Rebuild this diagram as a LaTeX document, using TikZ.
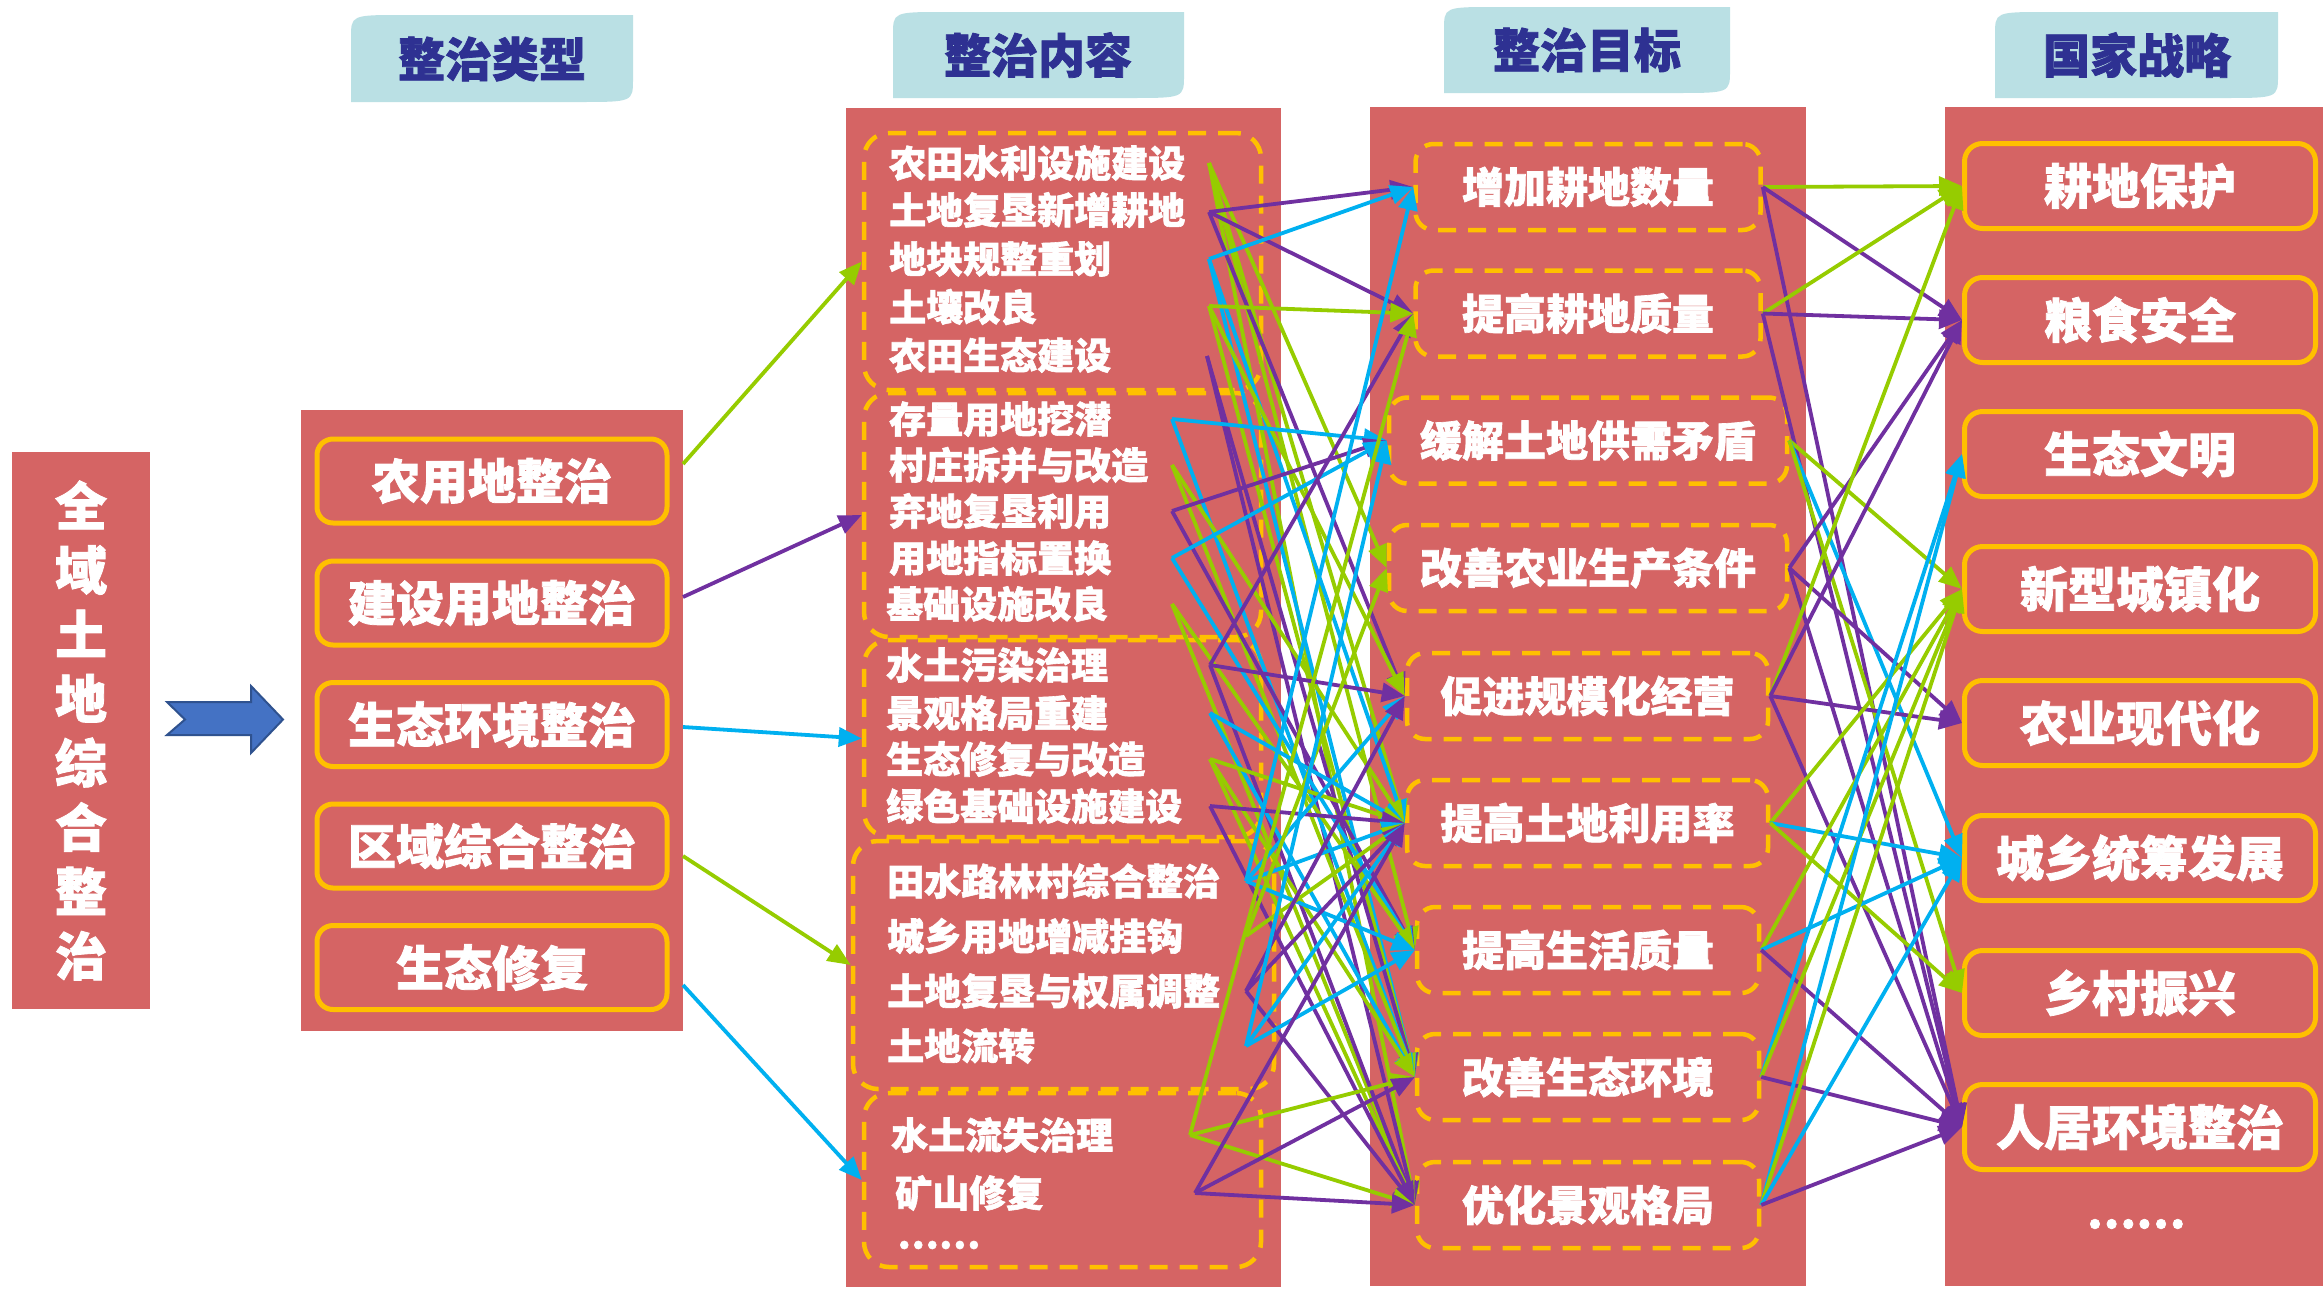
\documentclass[tikz,border=0pt]{standalone}
\usepackage{fontspec}
\setmainfont{Noto Sans CJK SC}[BoldFeatures={FakeBold=1.6}]
\usetikzlibrary{arrows.meta}
\definecolor{panelred}{RGB}{213,100,100}
\definecolor{gold}{RGB}{255,192,0}
\definecolor{tabfill}{RGB}{186,224,228}
\definecolor{navy}{RGB}{46,49,146}
\definecolor{lgreen}{RGB}{150,204,0}
\definecolor{lblue}{RGB}{0,176,240}
\definecolor{lpurple}{RGB}{112,48,160}
\definecolor{arrowblue}{RGB}{68,114,196}
\definecolor{arrowedge}{RGB}{47,82,143}
\begin{document}
\begin{tikzpicture}[x=1pt,y=-1pt,
  panel/.style={fill=panelred, draw=none, inner sep=0pt},
  typebox/.style={draw=gold, line width=5pt, rounded corners=16pt, minimum width=350pt, minimum height=84pt, text=white, font=\fontsize{48}{52}\selectfont\bfseries, inner sep=0pt},
  goalbox/.style={draw=gold, line width=4.5pt, dash pattern=on 18pt off 12pt, rounded corners=18pt, minimum height=86pt, text=white, font=\fontsize{42}{46}\selectfont\bfseries, inner sep=0pt},
  stratbox/.style={draw=gold, line width=5pt, rounded corners=18pt, minimum width=351pt, minimum height=85pt, text=white, font=\fontsize{48}{52}\selectfont\bfseries, inner sep=0pt},
  grp/.style={draw=gold, line width=4.5pt, dash pattern=on 18pt off 12pt, rounded corners=25pt, inner sep=0pt},
  item/.style={anchor=west, inner sep=0pt, text=white, font=\fontsize{37}{40}\selectfont\bfseries},
  tabtext/.style={text=navy, font=\fontsize{47}{50}\selectfont\bfseries, inner sep=0pt},
  tabshape/.style={fill=tabfill},
  conn/.style={line width=3.8pt, -{Triangle[length=23pt,width=19pt]}},
]
\useasboundingbox (0,0) rectangle (2323,1291);
\fill[white] (0,0) rectangle (2323,1291);

% ---------- header tabs ----------
\fill[tabshape] (351,102) -- (351,38) .. controls (351,15) .. (403,15) -- (633,15) -- (633,79) .. controls (633,102) .. (578,102) -- cycle;
\fill[tabshape] (893,98) -- (893,35) .. controls (893,12) .. (945,12) -- (1184,12) -- (1184,75) .. controls (1184,98) .. (1129,98) -- cycle;
\fill[tabshape] (1444,93) -- (1444,30) .. controls (1444,7) .. (1496,7) -- (1730,7) -- (1730,70) .. controls (1730,93) .. (1675,93) -- cycle;
\fill[tabshape] (1995,98) -- (1995,35) .. controls (1995,12) .. (2047,12) -- (2278,12) -- (2278,75) .. controls (2278,98) .. (2223,98) -- cycle;
\node[tabtext] (h1) at (492,59) {整治类型};
\node[tabtext] (h2) at (1038,55) {整治内容};
\node[tabtext] (h3) at (1587,50) {整治目标};
\node[tabtext] (h4) at (2137,55) {国家战略};

% ---------- panels ----------
\node[panel, minimum width=138pt, minimum height=557pt, text=white, align=center,
      font=\fontsize{52}{64.3}\selectfont\bfseries] (whole) at (81,730.5)
      {全\\域\\土\\地\\综\\合\\整\\治};
\node[panel, minimum width=382pt, minimum height=621pt] (typepanel) at (492,720.5) {};
\node[panel, minimum width=435pt, minimum height=1179pt] (contpanel) at (1063.5,697.5) {};
\node[panel, minimum width=436pt, minimum height=1179pt] (goalpanel) at (1588,696.5) {};
\node[panel, minimum width=378pt, minimum height=1179pt] (stratpanel) at (2134,696.5) {};

% ---------- big blue arrow ----------
\filldraw[fill=arrowblue, draw=arrowedge, line width=2pt, line join=miter]
  (167,702) -- (251,702) -- (251,686) -- (283,719.5) -- (251,753) -- (251,735) -- (167,735) -- (185,719.5) -- cycle;

% ---------- type boxes ----------
\node[typebox] (tb1) at (492,481) {农用地整治};
\node[typebox] (tb2) at (492,603) {建设用地整治};
\node[typebox] (tb3) at (492,724.5) {生态环境整治};
\node[typebox] (tb4) at (492,846) {区域综合整治};
\node[typebox] (tb5) at (492,967.5) {生态修复};

% ---------- content groups ----------
\node[grp, minimum width=397pt, minimum height=257pt] (grp1) at (1062.5,261.5) {};
\node[grp, minimum width=397pt, minimum height=244pt] (grp2) at (1062.5,515) {};
\node[grp, minimum width=397pt, minimum height=197pt] (grp3) at (1062.5,738.5) {};
\node[grp, minimum width=421pt, minimum height=248pt] (grp4) at (1063.5,965) {};
\node[grp, minimum width=397pt, minimum height=174pt] (grp5) at (1062.5,1180) {};

\node[item] (i1) at (889,163) {农田水利设施建设};
\node[item] (i2) at (889,210) {土地复垦新增耕地};
\node[item] (i3) at (889,259) {地块规整重划};
\node[item] (i4) at (889,307) {土壤改良};
\node[item] (i5) at (889,355) {农田生态建设};
\node[item] (i6) at (889,419) {存量用地挖潜};
\node[item] (i7) at (889,465) {村庄拆并与改造};
\node[item] (i8) at (889,511) {弃地复垦利用};
\node[item] (i9) at (889,558) {用地指标置换};
\node[item] (i10) at (886,604) {基础设施改良};
\node[item] (i11) at (886,665) {水土污染治理};
\node[item] (i12) at (886,713) {景观格局重建};
\node[item] (i13) at (886,759) {生态修复与改造};
\node[item] (i14) at (886,806) {绿色基础设施建设};
\node[item] (i15) at (887,881) {田水路林村综合整治};
\node[item] (i16) at (887,936) {城乡用地增减挂钩};
\node[item] (i17) at (887,991) {土地复垦与权属调整};
\node[item] (i18) at (887,1046) {土地流转};
\node[item] (i19) at (891,1135) {水土流失治理};
\node[item] (i20) at (895,1193) {矿山修复};
\node[item] (i21) at (897,1245) {……};

% ---------- goal boxes ----------
\node[goalbox, minimum width=345pt] (g1) at (1588,187) {增加耕地数量};
\node[goalbox, minimum width=345pt] (g2) at (1588,313.5) {提高耕地质量};
\node[goalbox, minimum width=398pt] (g3) at (1588,440.5) {缓解土地供需矛盾};
\node[goalbox, minimum width=398pt] (g4) at (1588,568) {改善农业生产条件};
\node[goalbox, minimum width=361pt] (g5) at (1587.5,696) {促进规模化经营};
\node[goalbox, minimum width=361pt] (g6) at (1587.5,823) {提高土地利用率};
\node[goalbox, minimum width=342pt] (g7) at (1588,950) {提高生活质量};
\node[goalbox, minimum width=342pt] (g8) at (1588,1077) {改善生态环境};
\node[goalbox, minimum width=342pt] (g9) at (1588,1205) {优化景观格局};

% ---------- strategy boxes ----------
\node[stratbox] (s1) at (2140,186) {耕地保护};
\node[stratbox] (s2) at (2140,320) {粮食安全};
\node[stratbox] (s3) at (2140,454) {生态文明};
\node[stratbox] (s4) at (2140,589) {新型城镇化};
\node[stratbox] (s5) at (2140,723) {农业现代化};
\node[stratbox] (s6) at (2140,858) {城乡统筹发展};
\node[stratbox] (s7) at (2140,993) {乡村振兴};
\node[stratbox] (s8) at (2140,1127) {人居环境整治};
\node[text=white, font=\fontsize{44}{46}\selectfont\bfseries, inner sep=0pt] (sdots) at (2136,1224) {……};

% ---------- connector start points ----------
\coordinate (o1) at (683,464);
\coordinate (o2) at (683,597);
\coordinate (o3) at (683,727);
\coordinate (o4) at (683,856);
\coordinate (o5) at (683,985);

\coordinate (p1) at (1209,163);
\coordinate (p2) at (1209,212);
\coordinate (p3) at (1209,259);
\coordinate (p4) at (1209,306);
\coordinate (p5) at (1207,356);
\coordinate (q1) at (1172,419);
\coordinate (q2) at (1172,465);
\coordinate (q3) at (1172,511);
\coordinate (q4) at (1172,558);
\coordinate (q5) at (1172,604);
\coordinate (r1) at (1210,665);
\coordinate (r2) at (1210,713);
\coordinate (r3) at (1210,759);
\coordinate (r4) at (1210,806);
\coordinate (u1) at (1246,881);
\coordinate (u2) at (1246,936);
\coordinate (u3) at (1246,991);
\coordinate (u4) at (1246,1046);
\coordinate (t1) at (1190,1135);
\coordinate (t2) at (1195,1193);

% ---------- type -> content ----------
\draw[conn, draw=lgreen] (o1) -- (grp1.west);
\draw[conn, draw=lpurple] (o2) -- (grp2.west);
\draw[conn, draw=lblue] (o3) -- (grp3.west);
\draw[conn, draw=lgreen] (o4) -- (grp4.west);
\draw[conn, draw=lblue] (o5) -- (grp5.west);

% ---------- content -> goals ----------
\foreach \s/\t/\c in {
  p1/g4/lgreen, p1/g6/lgreen, p1/g7/lgreen, p1/g9/lgreen,
  p2/g1/lpurple, p2/g2/lpurple, p2/g5/lpurple,
  p3/g1/lblue, p3/g6/lblue, p3/g8/lblue,
  p4/g2/lgreen, p4/g5/lgreen, p4/g8/lgreen,
  p5/g8/lpurple, p5/g9/lpurple,
  q1/g3/lblue, q1/g8/lblue,
  q2/g6/lgreen, q2/g8/lgreen,
  q3/g3/lpurple, q3/g7/lpurple,
  q4/g3/lblue, q4/g7/lblue,
  q5/g7/lgreen, q5/g9/lgreen,
  r1/g2/lpurple, r1/g5/lpurple, r1/g9/lpurple,
  r2/g6/lblue, r2/g8/lblue,
  r3/g6/lgreen, r3/g8/lgreen, r3/g9/lgreen,
  r4/g6/lpurple, r4/g9/lpurple,
  u1/g1/lblue, u1/g5/lblue, u1/g6/lblue, u1/g7/lblue,
  u2/g4/lgreen, u2/g6/lgreen,
  u3/g5/lpurple, u3/g6/lpurple, u3/g9/lpurple,
  u4/g3/lblue, u4/g6/lblue, u4/g7/lblue,
  t1/g2/lgreen, t1/g8/lgreen, t1/g9/lgreen,
  t2/g6/lpurple, t2/g8/lpurple, t2/g9/lpurple}
  \draw[conn, draw=\c] (\s) -- (\t.west);

% ---------- goals -> strategies ----------
\foreach \s/\t/\c in {
  g1/s1/lgreen, g1/s2/lpurple, g1/s8/lpurple,
  g2/s1/lgreen, g2/s2/lpurple, g2/s8/lpurple,
  g3/s4/lgreen, g3/s6/lblue, g3/s7/lgreen,
  g4/s2/lpurple, g4/s5/lpurple, g4/s8/lpurple,
  g5/s1/lgreen, g5/s2/lpurple, g5/s5/lpurple, g5/s8/lpurple,
  g6/s4/lgreen, g6/s6/lblue, g6/s7/lgreen,
  g7/s4/lgreen, g7/s6/lblue, g7/s8/lpurple,
  g8/s3/lblue, g8/s4/lgreen, g8/s8/lpurple,
  g9/s3/lblue, g9/s4/lgreen, g9/s6/lblue, g9/s8/lpurple}
  \draw[conn, draw=\c] (\s.east) -- (\t.west);
\end{tikzpicture}
\end{document}
